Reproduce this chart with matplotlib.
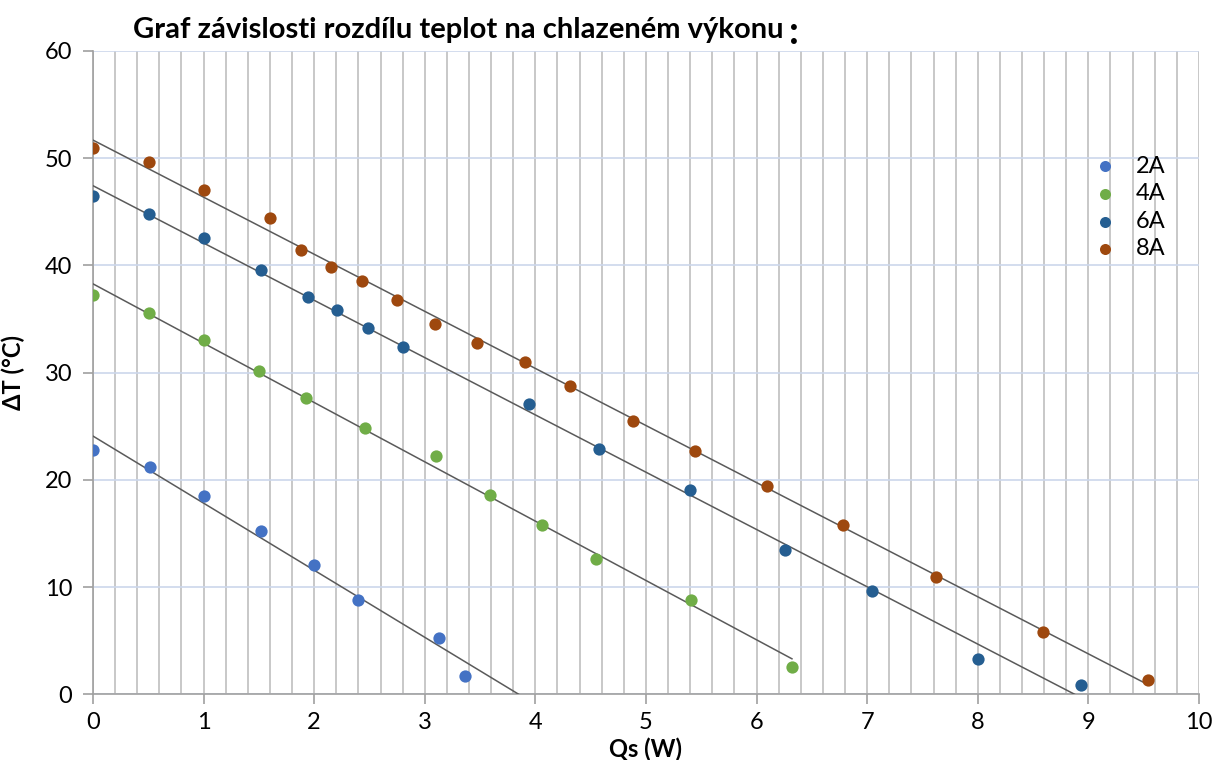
import numpy as np
import matplotlib.pyplot as plt
from matplotlib.ticker import MultipleLocator

# Naměřené hodnoty: chladicí výkon Qs (W) a rozdíl teplot dT (°C)
qs_2a = [0.0, 0.52, 1.0, 1.52, 2.0, 2.4, 3.13, 3.36]
dt_2a = [22.8, 21.2, 18.5, 15.2, 12.06, 8.8, 5.3, 1.7]

qs_4a = [0.0, 0.51, 1.0, 1.5, 1.93, 2.46, 3.10, 3.59, 4.06, 4.55, 5.41, 6.32]
dt_4a = [37.25, 35.55, 33.0, 30.15, 27.6, 24.87, 22.2, 18.56, 15.76, 12.6, 8.8, 2.57]

qs_6a = [0.0, 0.51, 1.0, 1.52, 1.94, 2.21, 2.49, 2.80, 3.94, 4.575, 5.40, 6.26, 7.04, 8.0, 8.93]
dt_6a = [46.45, 44.8, 42.6, 39.55, 37.03, 35.8, 34.2, 32.4, 27.08, 22.85, 19.03, 13.46, 9.66, 3.26, 0.84]

qs_8a = [0.0, 0.51, 1.0, 1.6, 1.88, 2.15, 2.43, 2.75, 3.09, 3.47, 3.91, 4.31, 4.88, 5.44, 6.09,
         6.78, 7.62, 8.59, 9.54]
dt_8a = [50.93, 49.66, 47.04, 44.46, 41.47, 39.83, 38.52, 36.78, 34.54, 32.8, 31.0, 28.8, 25.5,
         22.7, 19.4, 15.8, 10.97, 5.78, 1.33]

labels = ['2A', '4A', '6A', '8A']
colors = ['#4472C4', '#70AD47', '#255E91', '#9E480E']
# prodloužení trendu dopředu (W)
forecast = [0.5, 0.0, 0.0, 0.0]

plt.rcParams['font.family'] = ['Lato', 'DejaVu Sans']

fig = plt.figure(figsize=(12.15, 7.6), dpi=100)
ax = fig.add_axes([0.0765, 0.0864, 0.9103, 0.8465])

series = [(qs_2a, dt_2a), (qs_4a, dt_4a), (qs_6a, dt_6a), (qs_8a, dt_8a)]
for (qs, dt), lab, col, fw in zip(series, labels, colors, forecast):
    qs = np.array(qs)
    dt = np.array(dt)
    k, q = np.polyfit(qs, dt, 1)
    xt = np.array([qs.min(), qs.max() + fw])
    ax.plot(xt, k * xt + q, color='#5A5A5A', linewidth=1.1, zorder=3)
    ax.scatter(qs, dt, s=78, color=col, label=lab, zorder=4, linewidths=0)

ax.set_xlim(0, 10)
ax.set_ylim(0, 60)
ax.xaxis.set_major_locator(MultipleLocator(1))
ax.xaxis.set_minor_locator(MultipleLocator(0.2))
ax.yaxis.set_major_locator(MultipleLocator(10))

ax.grid(True, which='major', axis='y', color='#CCD7EB', linewidth=1.2, zorder=0)
ax.grid(True, which='both', axis='x', color='#BFBFBF', linewidth=1.2, zorder=0)
ax.set_axisbelow(True)

for side in ['top', 'right']:
    ax.spines[side].set_visible(False)
for side in ['left', 'bottom']:
    ax.spines[side].set_color('#A0A0A0')
    ax.spines[side].set_linewidth(1.2)

ax.tick_params(axis='both', which='major', length=7, width=1.2, color='#A0A0A0',
               labelsize=17, labelcolor='black')
ax.tick_params(axis='x', which='minor', length=0)
ax.tick_params(axis='x', pad=6)
ax.tick_params(axis='y', pad=8)

ax.set_xlabel('Qs (W)', fontsize=17, fontweight='bold', labelpad=3)
ax.set_ylabel('ΔT (°C)', fontsize=17, fontweight='bold', labelpad=14)

fig.text(133 / 1215, 1 - 30 / 760, 'Graf závislosti rozdílu teplot na chlazeném výkonu',
         fontsize=21, fontweight='bold', ha='left', va='center')
fig.text(789 / 1215, 1 - 32 / 760, ':', fontsize=28, fontweight='bold', ha='left', va='center')

ax.legend(loc='upper left', bbox_to_anchor=(0.885, 0.852), frameon=False, fontsize=17,
          handletextpad=0.3, labelspacing=0.28, borderaxespad=0, scatterpoints=1,
          markerscale=0.9)

fig.savefig('out.png', dpi=100)
